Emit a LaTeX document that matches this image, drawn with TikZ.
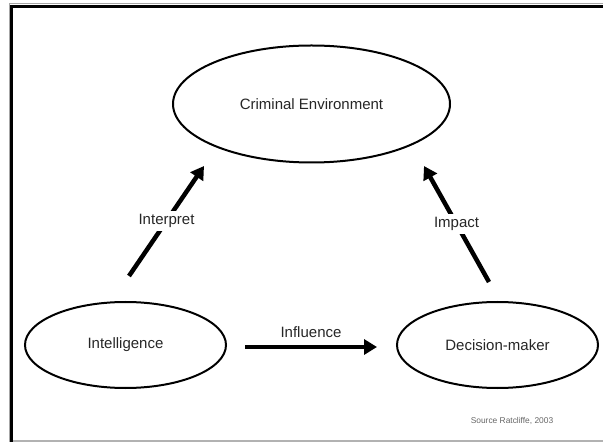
\documentclass[tikz,border=0pt]{standalone}
\usepackage{fontspec}
\setmainfont{Liberation Sans}
\usetikzlibrary{shapes.geometric,arrows.meta}

\tikzset{
    oval/.style={draw=black, line width=2bp, ellipse, inner sep=0pt,
        minimum height=117bp, text=black!85,
        font=\fontsize{15bp}{18bp}\selectfont},
    flow/.style={line width=4.5bp, -{Triangle[length=13bp,width=15bp]}},
    flowlabel/.style={fill=white, inner xsep=2bp, inner ysep=3.5bp, text=black!85,
        font=\fontsize{15bp}{18bp}\selectfont}
}

\begin{document}
\begin{tikzpicture}[x=1bp, y=-1bp]
    \useasboundingbox (0,0) rectangle (603,442);

    % frame
    \draw[black!35, line width=1bp] (9,442) -- (9,4) -- (603,4);
    \draw[black, line width=3bp] (11.5,442) -- (11.5,6.5) -- (603,6.5);
    \draw[black!30, line width=1.2bp] (13,441) -- (603,441);

    % ovals
    \node[oval, minimum width=277bp] (crime) at (311.5,104) {Criminal Environment};
    \node[oval, minimum width=201bp, minimum height=86bp] (intel) at (125.5,345) {Intelligence};
    \node[oval, minimum width=201bp, minimum height=86bp] (decide) at (497.5,345) {Decision-maker};

    % arrow ends
    \coordinate (interpA) at (129,276);
    \coordinate (interpB) at (204,166);
    \coordinate (impactA) at (489,282);
    \coordinate (impactB) at (424,166);
    \coordinate (inflA) at (245,347);
    \coordinate (inflB) at (377,347);

    \draw[flow] (interpA) -- node[flowlabel] (interp) {Interpret} (interpB);
    \draw[flow] (impactA) -- node[flowlabel] (impact) {Impact} (impactB);
    \draw[flow] (inflA) -- node[above=4bp, text=black!85,
        font=\fontsize{15bp}{18bp}\selectfont] (infl) {Influence} (inflB);

    \node[text=black!60, font=\fontsize{8.4bp}{10bp}\selectfont] (source) at (512,421) {Source Ratcliffe, 2003};
\end{tikzpicture}
\end{document}
